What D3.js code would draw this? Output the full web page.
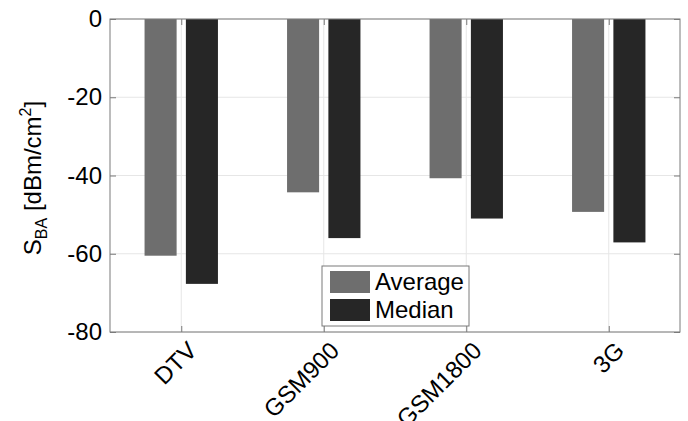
<!DOCTYPE html>
<html><head><meta charset="utf-8">
<script src="https://cdn.jsdelivr.net/npm/d3@7/dist/d3.min.js"></script>
<style>body{margin:0;background:#fff;} svg{display:block;} text{font-family:"Liberation Sans",Arial,sans-serif;}</style>
</head><body>
<svg id="c" width="688" height="421"></svg>
<script>
const categories = ["DTV","GSM900","GSM1800","3G"];
const seriesNames = ["Average","Median"];
const averageVals = [-60.5,-44.3,-40.7,-49.3];
const medianVals = [-67.7,-56.0,-51.0,-57.1];
const yTicks = [0,-20,-40,-60,-80];
const colors = ["#6e6e6e","#262626"];

const svg = d3.select("#c");
const L=110,R=680,T=19,B=332;
const x = d3.scaleLinear().domain([0.5,4.5]).range([L,R]);
const y = d3.scaleLinear().domain([-80,0]).range([B,T]);
const barW = x(1.225)-x(1);
const off = x(1.145)-x(1);

// grid
const g = svg.append("g");
g.selectAll(".gy").data(yTicks).join("line")
 .attr("x1",L).attr("x2",R).attr("y1",d=>y(d)).attr("y2",d=>y(d))
 .attr("stroke","#e6e6e6").attr("stroke-width",1);
g.selectAll(".gx").data(categories).join("line")
 .attr("x1",(d,i)=>x(i+1)).attr("x2",(d,i)=>x(i+1)).attr("y1",T).attr("y2",B)
 .attr("stroke","#e6e6e6").attr("stroke-width",1);

// bars
const series=[averageVals,medianVals];
series.forEach((vals,s)=>{
  svg.append("g").selectAll("rect").data(vals).join("rect")
   .attr("x",(d,i)=>x(i+1)+(s===0?-off:off)-barW/2)
   .attr("width",barW)
   .attr("y",y(0))
   .attr("height",d=>y(d)-y(0))
   .attr("fill",colors[s]);
});

// axes box
const ax = svg.append("g");
ax.append("rect").attr("x",L).attr("y",T).attr("width",R-L).attr("height",B-T)
 .attr("fill","none").attr("stroke","#7a7a7a").attr("stroke-width",1);
const yAxis = d3.axisLeft(y).tickValues(yTicks).tickSizeInner(-6).tickSizeOuter(0).tickPadding(8).tickFormat(d=>String(d));
const ya = ax.append("g").attr("transform",`translate(${L},0)`).call(yAxis);
ya.select(".domain").remove();
ya.selectAll("line").attr("stroke","#7a7a7a");
ya.selectAll("text").attr("font-size","24px").attr("fill","#000").attr("font-family","'Liberation Sans',Arial,sans-serif");
const yr = d3.axisRight(y).tickValues(yTicks).tickSizeInner(-6).tickSizeOuter(0).tickFormat("");
const yra = ax.append("g").attr("transform",`translate(${R},0)`).call(yr);
yra.select(".domain").remove(); yra.selectAll("line").attr("stroke","#7a7a7a");

const xb = d3.axisBottom(x).tickValues([1,2,3,4]).tickSizeInner(-6).tickSizeOuter(0).tickFormat("");
const xba = ax.append("g").attr("transform",`translate(0,${B})`).call(xb);
xba.select(".domain").remove(); xba.selectAll("line").attr("stroke","#7a7a7a");
const xt = d3.axisTop(x).tickValues([1,2,3,4]).tickSizeInner(-6).tickSizeOuter(0).tickFormat("");
const xta = ax.append("g").attr("transform",`translate(0,${T})`).call(xt);
xta.select(".domain").remove(); xta.selectAll("line").attr("stroke","#7a7a7a");

// x labels rotated
svg.append("g").selectAll("text").data(categories).join("text")
 .attr("transform",(d,i)=>`translate(${x(i+1)+17},${B+20}) rotate(-45)`)
 .attr("text-anchor","end").attr("font-size","24px").attr("fill","#000")
 .text(d=>d);

// y label
const yl = svg.append("text").attr("transform",`translate(41,178) rotate(-90)`)
 .attr("text-anchor","middle").attr("font-size","24px").attr("fill","#000");
yl.append("tspan").text("S");
yl.append("tspan").attr("font-size","16px").attr("dy","6").text("BA");
yl.append("tspan").attr("dy","-6").text(" [dBm/cm");
yl.append("tspan").attr("font-size","16px").attr("dy","-10").text("2");
yl.append("tspan").attr("dy","10").text("]");

// legend
const lg = svg.append("g");
lg.append("rect").attr("x",322).attr("y",266).attr("width",147).attr("height",60)
 .attr("fill","#fff").attr("stroke","#7a7a7a");
seriesNames.forEach((n,i)=>{
  lg.append("rect").attr("x",330).attr("y",271+i*28).attr("width",40).attr("height",22).attr("fill",colors[i]);
  lg.append("text").attr("x",375).attr("y",290+i*28).attr("font-size","24px").attr("fill","#000").text(n);
});
</script>
</body></html>
